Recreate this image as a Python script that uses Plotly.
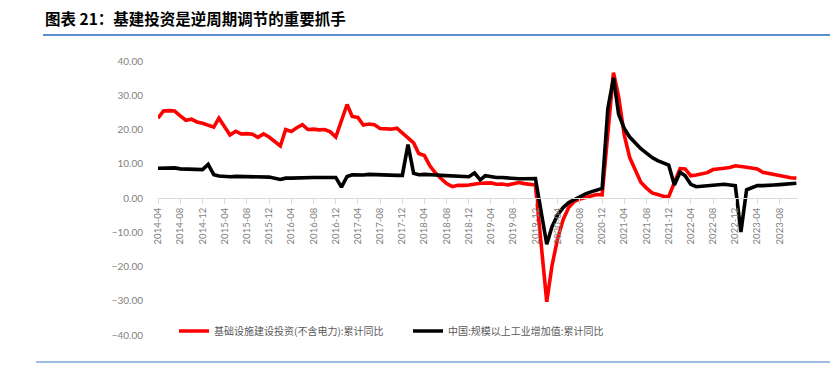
import pandas as pd
import plotly.graph_objects as go

# Monthly periods from 2014-04 to 2023-11 (116 months)
months = pd.date_range("2014-04-01", "2023-11-01", freq="MS")

# 基础设施建设投资(不含电力):累计同比  (January values absent)
infra = [
    23.3, 25.4, 25.5, 25.4, 24.0, 22.7, 23.0, 22.2, 21.8,            # 2014-04..12
    None, 20.7, 23.3, 20.8, 18.4, 19.5, 18.7, 18.8, 18.6, 17.7, 18.7, 17.8,   # 2015
    None, 15.2, 20.0, 19.4, 20.5, 21.4, 20.0, 20.1, 19.9, 20.0, 19.3, 17.8,   # 2016
    None, 27.3, 23.8, 23.5, 21.3, 21.6, 21.4, 20.3, 20.2, 20.1, 20.4, 19.0,   # 2017
    None, 16.1, 13.0, 12.4, 9.4, 7.3, 5.7, 4.2, 3.3, 3.7, 3.7, 3.8,           # 2018
    None, 4.3, 4.4, 4.4, 4.0, 4.1, 3.8, 4.2, 4.5, 4.2, 4.0, 3.8,              # 2019
    None, -30.3, -19.7, -11.8, -6.3, -2.7, -1.0, -0.3, 0.2, 0.7, 1.0, 0.9,    # 2020
    None, 36.6, 29.7, 18.4, 11.8, 7.8, 4.6, 2.9, 1.5, 1.0, 0.5, 0.4,          # 2021
    None, 8.6, 8.5, 6.5, 6.7, 7.1, 7.4, 8.3, 8.6, 8.7, 8.9, 9.4,              # 2022
    None, 9.0, 8.8, 8.5, 7.5, 7.2, 6.8, 6.4, 6.2, 5.9, 5.8,                   # 2023-01..11
]

# 中国:规模以上工业增加值:累计同比
industry = [
    8.7, 8.7, 8.8, 8.8, 8.5, 8.5, 8.4, 8.3, 8.3,                      # 2014-04..12
    9.8, 6.8, 6.4, 6.2, 6.2, 6.3, 6.3, 6.3, 6.2, 6.1, 6.1, 6.1,       # 2015
    None, 5.4, 5.8, 5.8, 5.9, 6.0, 6.0, 6.0, 6.0, 6.0, 6.0, 6.0,      # 2016
    3.2, 6.3, 6.8, 6.7, 6.7, 6.9, 6.8, 6.7, 6.7, 6.7, 6.6, 6.6,       # 2017
    15.6, 7.2, 6.8, 6.9, 6.9, 6.7, 6.6, 6.5, 6.4, 6.4, 6.3, 6.2,      # 2018
    7.3, 5.3, 6.5, 6.2, 6.0, 6.0, 5.8, 5.6, 5.6, 5.6, 5.6, 5.7,       # 2019
    None, -13.5, -8.4, -4.9, -2.8, -1.3, -0.4, 0.4, 1.2, 1.8, 2.3, 2.8,  # 2020
    26.0, 35.1, 24.5, 20.3, 17.8, 15.9, 14.4, 13.1, 11.8, 10.9, 10.1, 9.6,  # 2021
    3.8, 7.5, 6.5, 4.0, 3.3, 3.4, 3.5, 3.6, 3.9, 4.0, 3.8, 3.6,       # 2022
    -9.9, 2.4, 3.0, 3.6, 3.6, 3.8, 3.8, 3.9, 4.0, 4.1, 4.3,           # 2023-01..11
]

series_names = ["基础设施建设投资(不含电力):累计同比", "中国:规模以上工业增加值:累计同比"]
series_colors = ["#FF0000", "#000000"]
y_ticks = [40, 30, 20, 10, 0, -10, -20, -30, -40]
title_text = "图表 21：基建投资是逆周期调节的重要抓手"

fig = go.Figure()
for name, vals, col in zip(series_names, [infra, industry], series_colors):
    fig.add_trace(go.Scatter(
        x=months, y=vals, name=name, mode="lines", connectgaps=True,
        line=dict(color=col, width=3.6, shape="linear"),
    ))

# the page body has an 8px margin; the figure is sized so that it fills the window
OFF = 8
W, H = 838 - OFF, 369 - OFF
PL, PR, PT, PB = 158, 798, 61, 335          # plot area edges in page pixels
L, R, T, B = PL - OFF, 838 - PR, PT - OFF, 369 - PB
plot_w = PR - PL
plot_h = PB - PT


def px_x(px):
    return (px - PL) / plot_w


def px_y(py):
    return (PB - py) / plot_h


tick_font = dict(family="Lato, 'DejaVu Sans', sans-serif", size=9.5, color="#7F7F7F")

fig.update_layout(
    width=W, height=H,
    margin=dict(l=L, r=R, t=T, b=B, pad=0),
    paper_bgcolor="white", plot_bgcolor="white",
    title=dict(
        text=f"<b>{title_text}</b>",
        x=(45 - OFF) / W, xanchor="left", xref="container",
        y=1 - (20 - OFF) / H, yanchor="middle", yref="container",
        font=dict(family="'Noto Sans CJK SC', sans-serif", size=15.5, color="#000000"),
    ),
    xaxis=dict(
        type="date",
        range=["2014-04-01", "2023-11-10"],
        tick0="2014-04-01", dtick="M4", tickformat="%Y-%m",
        tickangle=-90,
        anchor="free", position=0.5,
        showline=True, linecolor="#D9D9D9", linewidth=1,
        ticks="outside", ticklen=5, tickcolor="#D9D9D9",
        showgrid=False, zeroline=False,
        tickfont=tick_font,
    ),
    yaxis=dict(
        range=[-40, 40], tickvals=y_ticks, tickformat=".2f",
        showgrid=False, zeroline=False, showline=False, ticks="",
        ticklabelstandoff=14,
        tickfont=dict(family="Lato, 'DejaVu Sans', sans-serif", size=10, color="#7F7F7F"),
        domain=[0, 1],
    ),
    showlegend=True,
    legend=dict(
        orientation="h", x=px_x(174), xanchor="left",
        y=px_y(331), yanchor="middle",
        font=dict(family="'Noto Sans CJK SC', sans-serif", size=10, color="#595959"),
        bgcolor="rgba(0,0,0,0)", itemwidth=30,
        entrywidth=189, entrywidthmode="pixels",
        tracegroupgap=0,
    ),
    shapes=[
        dict(type="line", xref="paper", yref="paper",
             x0=px_x(43), x1=px_x(838), y0=px_y(35), y1=px_y(35),
             line=dict(color="#5B8FD0", width=2)),
        dict(type="line", xref="paper", yref="paper",
             x0=px_x(36), x1=px_x(838), y0=px_y(362), y1=px_y(362),
             line=dict(color="#7FA7DA", width=1.5)),
    ],
)

fig.write_html("out.html")
